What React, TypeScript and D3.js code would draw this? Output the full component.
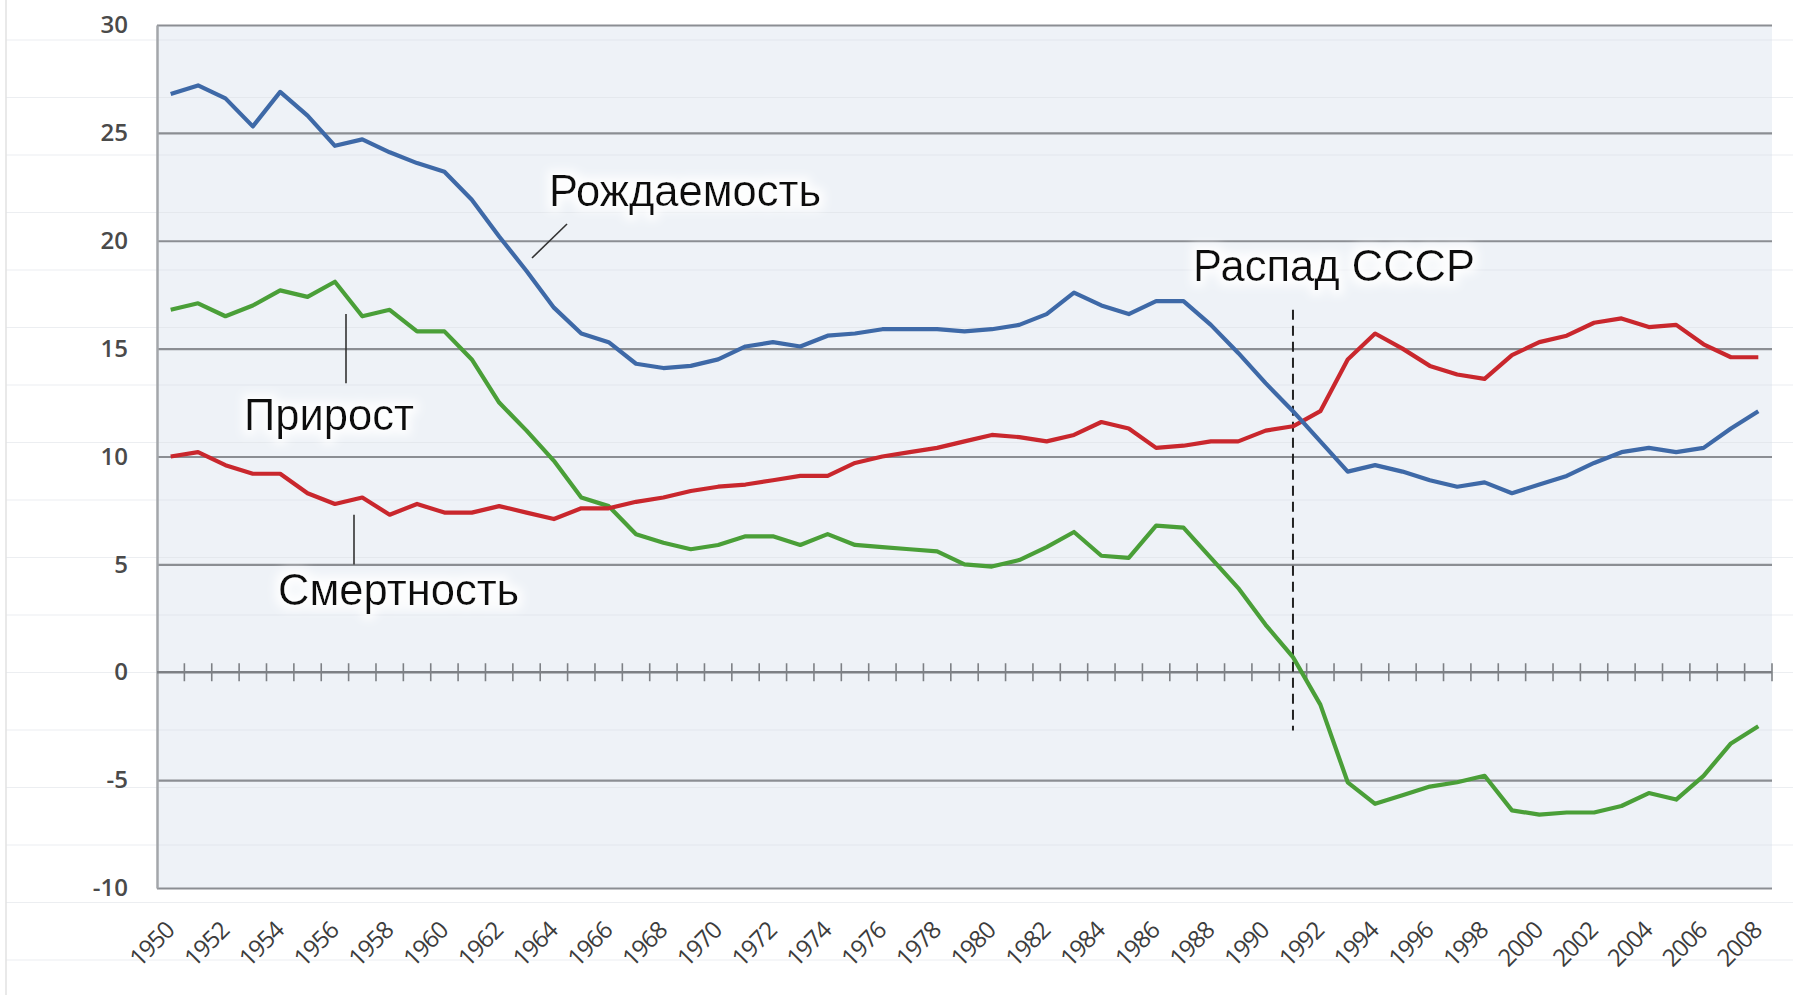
import React, { useRef, useEffect } from 'react';
import * as d3 from 'd3';

// годы 1950..2008
const years: number[] = [
  1950, 1951, 1952, 1953, 1954, 1955, 1956, 1957, 1958, 1959,
  1960, 1961, 1962, 1963, 1964, 1965, 1966, 1967, 1968, 1969,
  1970, 1971, 1972, 1973, 1974, 1975, 1976, 1977, 1978, 1979,
  1980, 1981, 1982, 1983, 1984, 1985, 1986, 1987, 1988, 1989,
  1990, 1991, 1992, 1993, 1994, 1995, 1996, 1997, 1998, 1999,
  2000, 2001, 2002, 2003, 2004, 2005, 2006, 2007, 2008,
];

// Рождаемость
const birthRate: number[] = [
  26.8, 27.2, 26.6, 25.3, 26.9, 25.8, 24.4, 24.7, 24.1, 23.6,
  23.2, 21.9, 20.2, 18.6, 16.9, 15.7, 15.3, 14.3, 14.1, 14.2,
  14.5, 15.1, 15.3, 15.1, 15.6, 15.7, 15.9, 15.9, 15.9, 15.8,
  15.9, 16.1, 16.6, 17.6, 17.0, 16.6, 17.2, 17.2, 16.1, 14.8,
  13.4, 12.1, 10.7, 9.3, 9.6, 9.3, 8.9, 8.6, 8.8, 8.3,
  8.7, 9.1, 9.7, 10.2, 10.4, 10.2, 10.4, 11.3, 12.1,
];

// Смертность
const deathRate: number[] = [
  10.0, 10.2, 9.6, 9.2, 9.2, 8.3, 7.8, 8.1, 7.3, 7.8,
  7.4, 7.4, 7.7, 7.4, 7.1, 7.6, 7.6, 7.9, 8.1, 8.4,
  8.6, 8.7, 8.9, 9.1, 9.1, 9.7, 10.0, 10.2, 10.4, 10.7,
  11.0, 10.9, 10.7, 11.0, 11.6, 11.3, 10.4, 10.5, 10.7, 10.7,
  11.2, 11.4, 12.1, 14.5, 15.7, 15.0, 14.2, 13.8, 13.6, 14.7,
  15.3, 15.6, 16.2, 16.4, 16.0, 16.1, 15.2, 14.6, 14.6,
];

// Прирост
const growthRate: number[] = [
  16.8, 17.1, 16.5, 17.0, 17.7, 17.4, 18.1, 16.5, 16.8, 15.8,
  15.8, 14.5, 12.5, 11.2, 9.8, 8.1, 7.7, 6.4, 6.0, 5.7,
  5.9, 6.3, 6.3, 5.9, 6.4, 5.9, 5.8, 5.7, 5.6, 5.0,
  4.9, 5.2, 5.8, 6.5, 5.4, 5.3, 6.8, 6.7, 5.3, 3.9,
  2.2, 0.7, -1.5, -5.1, -6.1, -5.7, -5.3, -5.1, -4.8, -6.4,
  -6.6, -6.5, -6.5, -6.2, -5.6, -5.9, -4.8, -3.3, -2.5,
];

const yTicks: number[] = [-10, -5, 0, 5, 10, 15, 20, 25, 30];
const collapseYear = 1991;

const W = 1793;
const H = 995;
const plot = { left: 157, right: 1772, top: 25, bottom: 888 };

const Chart = () => {
  const ref = useRef(null);

  const x = d3.scaleBand<number>().domain(years).range([plot.left, plot.right]);
  const bw = x.bandwidth();
  const cx = (yr: number) => (x(yr) as number) + bw / 2;
  const y = d3.scaleLinear().domain([-10, 30]).range([plot.bottom, plot.top]);

  useEffect(() => {
    const svg = d3.select(ref.current);
    svg.selectAll('*').remove();

    const defs = svg.append('defs');
    const glow = defs.append('filter').attr('id', 'glow')
      .attr('x', '-20%').attr('y', '-40%').attr('width', '140%').attr('height', '180%');
    glow.append('feMorphology').attr('in', 'SourceAlpha').attr('operator', 'dilate').attr('radius', 5).attr('result', 'dil');
    glow.append('feGaussianBlur').attr('in', 'dil').attr('stdDeviation', 5).attr('result', 'blur');
    glow.append('feFlood').attr('flood-color', '#ffffff').attr('flood-opacity', 0.9);
    glow.append('feComposite').attr('in2', 'blur').attr('operator', 'in').attr('result', 'halo');
    const merge = glow.append('feMerge');
    merge.append('feMergeNode').attr('in', 'halo');
    merge.append('feMergeNode').attr('in', 'SourceGraphic');

    svg.append('rect').attr('width', W).attr('height', H).attr('fill', '#ffffff');

    // plot background
    svg.append('rect')
      .attr('x', plot.left).attr('y', plot.top)
      .attr('width', plot.right - plot.left).attr('height', plot.bottom - plot.top)
      .attr('fill', '#eef2f7');

    // faint sheet lines behind the chart
    const ghost = svg.append('g');
    d3.range(0, 17).forEach((k) => {
      ghost.append('line')
        .attr('x1', 6).attr('x2', W)
        .attr('y1', 40 + k * 57.5).attr('y2', 40 + k * 57.5)
        .attr('stroke', '#d9dde3').attr('stroke-opacity', 0.5).attr('stroke-width', 1.2);
    });
    ghost.append('line').attr('x1', 6).attr('x2', 6).attr('y1', 0).attr('y2', H)
      .attr('stroke', '#e2e2e2').attr('stroke-width', 1.5);

    // major grid
    const grid = svg.append('g')
      .attr('transform', `translate(${plot.left},0)`)
      .call(d3.axisLeft(y).tickValues(yTicks.filter((t) => t !== 0)).tickSize(-(plot.right - plot.left)).tickFormat(() => ''));
    grid.select('.domain').remove();
    grid.selectAll('.tick line').attr('stroke', '#8b8e93').attr('stroke-width', 2.2);

    // left axis + labels
    const yAxis = svg.append('g')
      .attr('transform', `translate(${plot.left},0)`)
      .call(d3.axisLeft(y).tickValues(yTicks).tickSize(0).tickPadding(29).tickFormat((d) => String(d)));
    yAxis.select('.domain').attr('stroke', '#a3a6aa').attr('stroke-width', 2.5);
    yAxis.selectAll('.tick text')
      .attr('fill', '#4a4a4a')
      .style('font-family', '"Open Sans", sans-serif')
      .style('font-weight', '600')
      .style('font-size', '24px');

    // zero axis with ticks at category boundaries
    const zero = svg.append('g');
    zero.append('line')
      .attr('x1', plot.left).attr('x2', plot.right)
      .attr('y1', y(0)).attr('y2', y(0))
      .attr('stroke', '#7d8085').attr('stroke-width', 2.5);
    years.slice(1).concat([0]).forEach((yr) => {
      const bx = yr === 0 ? plot.right : (x(yr) as number);
      zero.append('line')
        .attr('x1', bx).attr('x2', bx)
        .attr('y1', y(0) - 9).attr('y2', y(0) + 9)
        .attr('stroke', '#7d8085').attr('stroke-width', 1.6);
    });

    // year labels
    const xl = svg.append('g');
    years.filter((yr) => (yr - 1950) % 2 === 0).forEach((yr) => {
      xl.append('text')
        .attr('transform', `translate(${cx(yr) + 5},${plot.bottom + 44}) rotate(-45)`)
        .attr('text-anchor', 'end')
        .attr('fill', '#3c3c3c')
        .style('font-family', '"Open Sans", sans-serif')
        .style('font-size', '24px')
        .style('letter-spacing', '-1px')
        .text(yr);
    });

    // dashed line for 1991
    svg.append('line')
      .attr('x1', cx(collapseYear)).attr('x2', cx(collapseYear))
      .attr('y1', y(16.8)).attr('y2', y(-2.7))
      .attr('stroke', '#222').attr('stroke-width', 2).attr('stroke-dasharray', '10,6');

    const line = d3.line<number>().x((_, i) => cx(years[i])).y((d) => y(d));
    const series = [
      { values: growthRate, color: '#4a9f38' },
      { values: deathRate, color: '#c9272d' },
      { values: birthRate, color: '#3e69a7' },
    ];
    series.forEach((s) => {
      svg.append('path')
        .datum(s.values)
        .attr('d', line)
        .attr('fill', 'none')
        .attr('stroke', s.color)
        .attr('stroke-width', 4.2)
        .attr('stroke-linejoin', 'round');
    });

    // leader lines
    const lead = svg.append('g').attr('stroke', '#333').attr('stroke-width', 1.6);
    lead.append('line').attr('x1', 532).attr('y1', 258).attr('x2', 567).attr('y2', 224);
    lead.append('line').attr('x1', 346).attr('y1', y(16.6)).attr('x2', 346).attr('y2', y(13.4));
    lead.append('line').attr('x1', 354).attr('y1', y(7.3)).attr('x2', 354).attr('y2', y(5.0));

    const notes = [
      { t: 'Рождаемость', x: 549, y: 206 },
      { t: 'Прирост', x: 244, y: 430 },
      { t: 'Смертность', x: 278, y: 605 },
      { t: 'Распад СССР', x: 1193, y: 281 },
    ];
    notes.forEach((n) => {
      svg.append('text')
        .attr('x', n.x).attr('y', n.y)
        .attr('fill', '#111')
        .attr('filter', 'url(#glow)')
        .style('font-family', '"Liberation Sans", Arial, sans-serif')
        .style('font-size', '43.5px')
        .text(n.t);
    });
  }, []);

  return (
    <div style={{ position: 'absolute', left: 0, top: 0 }}>
      <svg width={W} height={H} viewBox={`0 0 ${W} ${H}`} ref={ref}></svg>
    </div>
  );
};

export default function App() {
  return <Chart />;
}
